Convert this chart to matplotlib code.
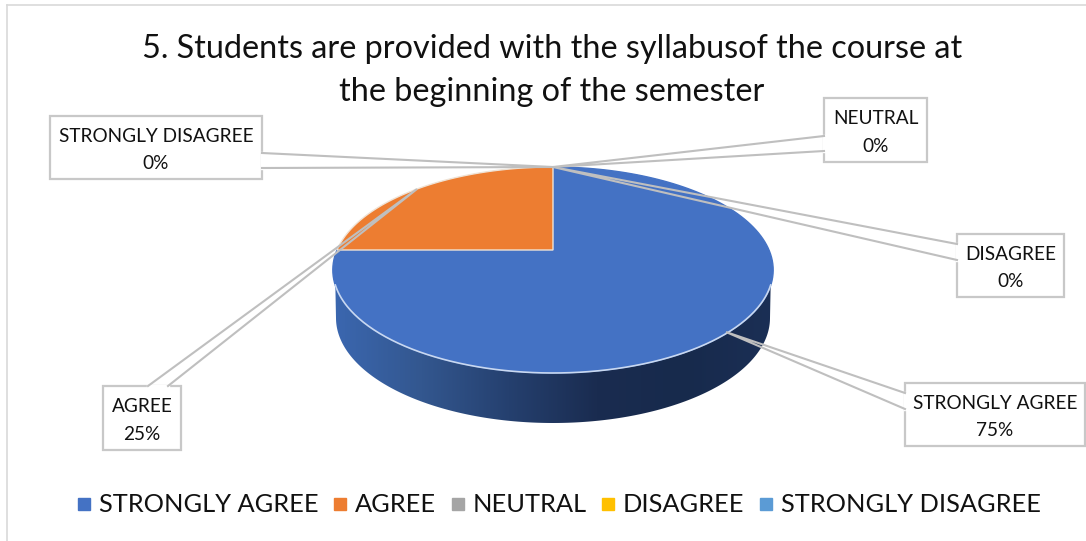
import numpy as np
import matplotlib
matplotlib.use("Agg")
import matplotlib.pyplot as plt
from matplotlib.colors import LinearSegmentedColormap
from matplotlib.lines import Line2D
from matplotlib.patches import Polygon

categories = ["STRONGLY AGREE", "AGREE", "NEUTRAL", "DISAGREE", "STRONGLY DISAGREE"]
percent = [75, 25, 0, 0, 0]
colors = ["#4472c4", "#ed7d31", "#a5a5a5", "#ffc000", "#5b9bd5"]

title = "5. Students are provided with the syllabusof the course at\nthe beginning of the semester"

plt.rcParams["font.family"] = ["Lato", "DejaVu Sans"]

fig = plt.figure(figsize=(10.86, 5.41), dpi=100)
ax = fig.add_axes([0, 0, 1, 1])

wedges, _ = ax.pie(percent, colors=colors, startangle=90, counterclock=False, radius=1)

# axes in pixels from here on
ax.set_aspect("auto")
ax.set_xlim(0, 1086)
ax.set_ylim(541, 0)
ax.axis("off")

# outer chart frame
ax.plot([7, 7], [541, 5], color="#d9d9d9", lw=1.2)
ax.plot([7, 1086], [5, 5], color="#d9d9d9", lw=1.2)


# tilt the flat pie: the unit circle goes to an ellipse, apex above its centre
def tilt(pts):
    u, v = pts[:, 0], pts[:, 1]
    d = 1 + 0.194 * v
    return np.column_stack([553 + 216 * u / d, 250 - 99.1 * v / d])


# side wall
t = np.linspace(0.146, np.pi - 0.146, 200)
tb = np.linspace(0, np.pi, 200)
wall = np.vstack([
    np.column_stack([553 + 220 * np.cos(t), 270 + 103 * np.sin(t)]),
    np.column_stack([553 + 217 * np.cos(tb[::-1]), 318 + 105 * np.sin(tb[::-1])]),
])
wall_patch = Polygon(wall, closed=True, fc="none", ec="none")
ax.add_patch(wall_patch)
shade = LinearSegmentedColormap.from_list(
    "wall", ["#3b67b0", "#33578f", "#25406f", "#1a2c50", "#172a4c", "#1b2f55"]
)
im = ax.imshow(np.linspace(0, 1, 256)[None, :], cmap=shade, extent=[333, 773, 430, 270],
               aspect="auto", zorder=2)
im.set_clip_path(wall_patch)
ax.set_xlim(0, 1086)
ax.set_ylim(541, 0)

# top face, built from the pie wedges
for w, value, col in zip(wedges, percent, colors):
    w.set_visible(False)
    if value == 0:
        continue
    ang = np.radians(np.linspace(w.theta1, w.theta2, 150))
    arc = np.column_stack([np.cos(ang), np.sin(ang)]) * w.r
    face = tilt(np.vstack([[0, 0], arc]))
    edge = "#efe3d6" if col == "#ed7d31" else col
    ax.add_patch(Polygon(face, closed=True, fc=col, ec=edge, lw=1, zorder=3))

# light rim on the front of the face
ax.plot(553 + 220 * np.cos(t), 270 + 103 * np.sin(t), color="#c9d8f0", lw=1.2, zorder=4)

# callouts: box, two leader lines to the tip
callouts = [
    (0, (905, 383, 1085, 446), [(905, 393), (726, 332), (905, 409)]),
    (1, (103, 386, 181, 450), [(148, 386), (417, 189), (168, 386)]),
    (2, (824, 98, 927, 162), [(824, 136), (553, 167), (824, 151)]),
    (3, (957, 234, 1064, 297), [(957, 244), (553, 167), (957, 260)]),
    (4, (50, 116, 262, 179), [(262, 153), (553, 167), (262, 168)]),
]
for i, (x0, y0, x1, y1), lead in callouts:
    ax.add_patch(Polygon([(x0, y0), (x1, y0), (x1, y1), (x0, y1)], closed=True,
                         fc="white", ec="#c8c8c8", lw=1.6, zorder=5))
    # box outline opens where the leader joins it
    ax.plot([lead[0][0], lead[2][0]], [lead[0][1], lead[2][1]], color="white", lw=2.4,
            zorder=5.5)
    xs, ys = zip(*lead)
    ax.plot(xs, ys, color="#bfbfbf", lw=1.5, zorder=6, solid_joinstyle="miter")
    ax.text((x0 + x1) / 2, (y0 + y1) / 2 + 2.5, f"{categories[i]}\n{percent[i]}%", ha="center",
            va="center", fontsize=13.65, color="#111111", linespacing=1.77, zorder=7)

ax.text(552, 70.5, title, ha="center", va="center", fontsize=23.3, color="#111111",
        linespacing=1.54)

handles = [Line2D([], [], ls="none", marker="s", ms=8.6, color=c) for c in colors]
ax.legend(handles, categories, loc="center", bbox_to_anchor=(558 / 1086, 1 - 505 / 541),
          ncol=5, frameon=False, fontsize=18.25, handlelength=0.7, handletextpad=0.24,
          columnspacing=0.5, labelcolor="#111111")

fig.savefig("out.png", dpi=100)
